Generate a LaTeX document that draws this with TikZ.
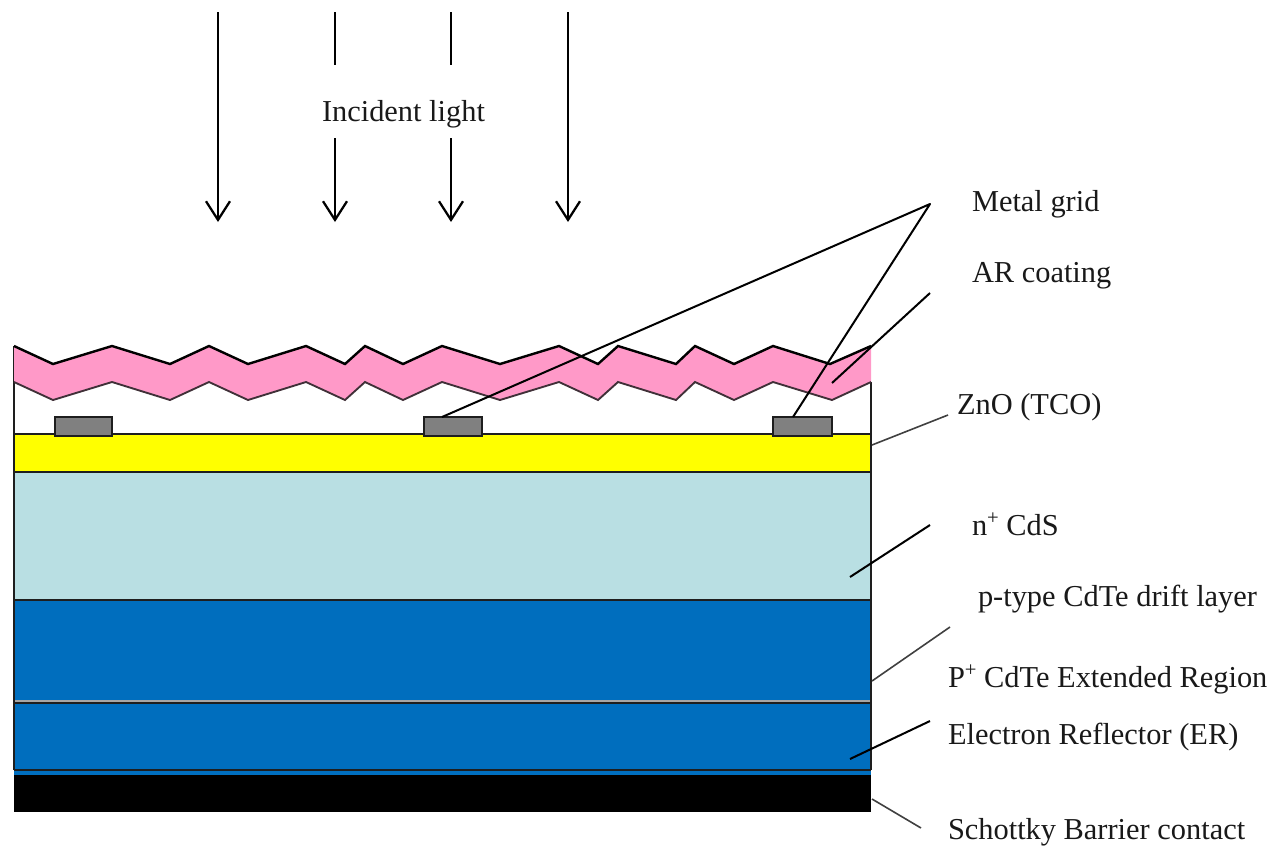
\documentclass[tikz,border=0pt]{standalone}
\usepackage{fontspec}
\setmainfont{Liberation Serif}
\usetikzlibrary{arrows.meta}
\definecolor{pinkcoat}{HTML}{FF99C8}
\definecolor{tcoyellow}{HTML}{FFFF00}
\definecolor{cdslight}{HTML}{B9DFE3}
\definecolor{cdteblue}{HTML}{006EBE}
\definecolor{gridgray}{HTML}{808080}
\definecolor{inkdark}{HTML}{1E1E1E}
\tikzset{
  layerbox/.style={draw=inkdark,line width=1.5pt},
  gridbar/.style={draw=inkdark,fill=gridgray,line width=1.3pt},
  lightarrow/.style={draw=black,line width=1.7pt,-{Straight Barb[length=14pt,width=18pt,line width=1.7pt]}},
  lightstub/.style={draw=black,line width=1.7pt},
  leader/.style={draw=black,line width=1.5pt,line join=round},
  softleader/.style={draw=inkdark!85,line width=1.2pt},
  lbl/.style={anchor=base west,inner sep=0pt,outer sep=0pt,text=black!90,font=\fontsize{22.8pt}{26pt}\selectfont},
}
\newcommand{\supplus}{\raisebox{0.36em}{\fontsize{15.5pt}{16pt}\selectfont +}}
\begin{document}
\begin{tikzpicture}[x=0.75pt,y=-0.75pt,line join=miter]
\useasboundingbox[fill=white] (0,0) rectangle (1280,858);

% cell body
\draw[draw=inkdark,line width=1.2pt] (14,346) -- (14,434) (871,382) -- (871,434);

% AR coating
\fill[pinkcoat] (14,346) -- (53,364) -- (112,346) -- (170,364) -- (209,346) -- (248,364) -- (306,346) -- (345,364) -- (365,346) -- (403,364) -- (442,346) -- (500,364) -- (559,346) -- (598,364) -- (618,346) -- (676,364) -- (695,346) -- (734,364) -- (773,346) -- (830,364) -- (871,346)
  -- (871,382) -- (832,400) -- (773,382) -- (734,400) -- (695,382) -- (676,400) -- (618,382) -- (598,400) -- (559,382) -- (500,400) -- (442,382) -- (403,400) -- (365,382) -- (345,400) -- (306,382) -- (248,400) -- (209,382) -- (170,400) -- (112,382) -- (53,400) -- (14,382) -- cycle;
\draw[black,line width=1.8pt] (14,346) -- (53,364) -- (112,346) -- (170,364) -- (209,346) -- (248,364) -- (306,346) -- (345,364) -- (365,346) -- (403,364) -- (442,346) -- (500,364) -- (559,346) -- (598,364) -- (618,346) -- (676,364) -- (695,346) -- (734,364) -- (773,346) -- (830,364) -- (871,346);
\draw[inkdark!85!pinkcoat,line width=1.4pt] (14,382) -- (53,400) -- (112,382) -- (170,400) -- (209,382) -- (248,400) -- (306,382) -- (345,400) -- (365,382) -- (403,400) -- (442,382) -- (500,400) -- (559,382) -- (598,400) -- (618,382) -- (676,400) -- (695,382) -- (734,400) -- (773,382) -- (832,400) -- (871,382);

% layers
\draw[layerbox,fill=tcoyellow] (14,434) rectangle (871,472);
\draw[layerbox,fill=cdslight] (14,472) rectangle (871,600);
\fill[cdteblue] (14,600) rectangle (871,775);
\draw[layerbox] (14,600) -- (871,600);
\draw[draw=gridgray!70!white,line width=1.5pt] (14,700.5) -- (871,700.5);
\draw[draw=inkdark,line width=1.4pt] (14,703) -- (871,703);
\draw[draw=inkdark,line width=1.6pt] (14,770) -- (871,770);
\draw[draw=inkdark,line width=1.3pt] (14,600) -- (14,770) (871,600) -- (871,770);
\fill[black] (14,775) rectangle (871,812);

% metal grid bars
\draw[gridbar] (55,417) rectangle (112,436);
\draw[gridbar] (424,417) rectangle (482,436);
\draw[gridbar] (773,417) rectangle (832,436);

% incident light
\coordinate (a1s) at (218,12); \coordinate (a1e) at (218,222);
\coordinate (a2s) at (335,12); \coordinate (a2m) at (335,65); \coordinate (a2n) at (335,138); \coordinate (a2e) at (335,222);
\coordinate (a3s) at (451,12); \coordinate (a3m) at (451,65); \coordinate (a3n) at (451,138); \coordinate (a3e) at (451,222);
\coordinate (a4s) at (568,12); \coordinate (a4e) at (568,222);
\draw[lightarrow] (a1s) -- (a1e);
\draw[lightstub] (a2s) -- (a2m);
\draw[lightarrow] (a2n) -- (a2e);
\draw[lightstub] (a3s) -- (a3m);
\draw[lightarrow] (a3n) -- (a3e);
\draw[lightarrow] (a4s) -- (a4e);

% labels
\node[lbl] (incident) at (322,121) {Incident light};
\node[lbl] (metal) at (972,211) {Metal grid};
\node[lbl] (arc) at (972,282) {AR coating};
\node[lbl] (zno) at (957,414) {ZnO (TCO)};
\node[lbl] (cds) at (972,535) {n\supplus{} CdS};
\node[lbl] (ptype) at (978,606) {p-type CdTe drift layer};
\node[lbl] (pplus) at (948,687) {P\supplus{} CdTe Extended Region};
\node[lbl] (er) at (948,744) {Electron Reflector (ER)};
\node[lbl] (schottky) at (948,839) {Schottky Barrier contact};

% leaders
\coordinate (mg) at (930,204); \coordinate (mg1) at (442,417); \coordinate (mg2) at (793,417);
\coordinate (ar1) at (930,293); \coordinate (ar2) at (832,383);
\coordinate (zn1) at (948,415); \coordinate (zn2) at (872,445);
\coordinate (cd1) at (930,525); \coordinate (cd2) at (850,577);
\coordinate (pt1) at (950,627); \coordinate (pt2) at (872,681);
\coordinate (er1) at (930,721); \coordinate (er2) at (850,759);
\coordinate (sb1) at (872,799); \coordinate (sb2) at (921,828);
\draw[leader] (mg1) -- (mg) -- (mg2);
\draw[leader] (ar1) -- (ar2);
\draw[softleader] (zn1) -- (zn2);
\draw[leader] (cd1) -- (cd2);
\draw[softleader] (pt1) -- (pt2);
\draw[leader] (er1) -- (er2);
\draw[softleader] (sb1) -- (sb2);
\end{tikzpicture}
\end{document}
